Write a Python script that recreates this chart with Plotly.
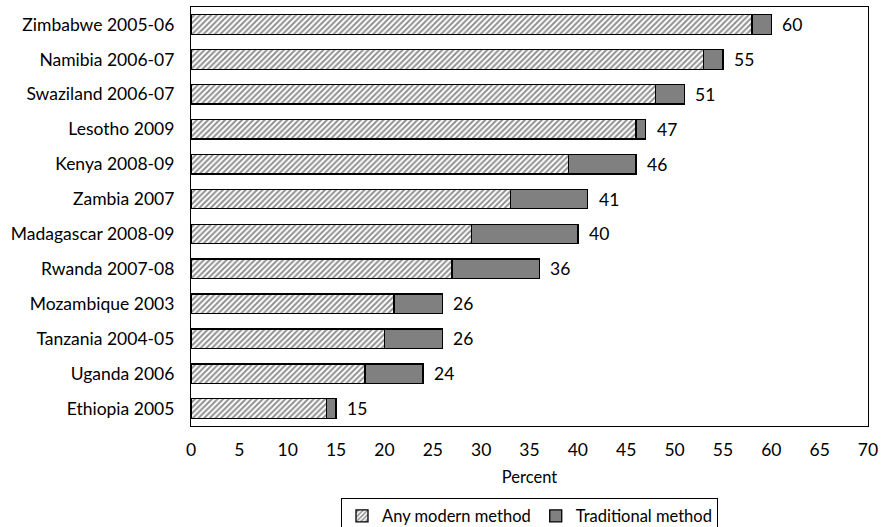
import plotly.graph_objects as go

countries = ["Zimbabwe 2005-06", "Namibia 2006-07", "Swaziland 2006-07", "Lesotho 2009",
             "Kenya 2008-09", "Zambia 2007", "Madagascar 2008-09", "Rwanda 2007-08",
             "Mozambique 2003", "Tanzania 2004-05", "Uganda 2006", "Ethiopia 2005"]
modern = [58, 53, 48, 46, 39, 33, 29, 27, 21, 20, 18, 14]
traditional = [2, 2, 3, 1, 7, 8, 11, 9, 5, 6, 6, 1]
totals = [60, 55, 51, 47, 46, 41, 40, 36, 26, 26, 24, 15]
xticks = list(range(0, 75, 5))

FONT = "Lato, 'Noto Sans', sans-serif"
FS = 17.5

fig = go.Figure()
fig.add_trace(go.Bar(
    y=countries, x=modern, orientation="h", name="Any modern method",
    marker=dict(color="white", line=dict(color="black", width=1.3),
                pattern=dict(shape="/", fgcolor="#222222", bgcolor="white", size=4, solidity=0.5)),
))
fig.add_trace(go.Bar(
    y=countries, x=traditional, orientation="h", name="Traditional method",
    marker=dict(color="#808080", line=dict(color="black", width=1.3)),
))
for c, t in zip(countries, totals):
    fig.add_annotation(x=t, y=c, text=str(t), showarrow=False, xanchor="left",
                       xshift=9, font=dict(size=FS, color="black", family=FONT))

fig.update_layout(
    width=881, height=527,
    barmode="stack", bargap=0.44,
    paper_bgcolor="white", plot_bgcolor="white",
    margin=dict(l=191, r=13, t=7, b=101, autoexpand=False),
    font=dict(family=FONT, size=FS, color="black"),
    legend=dict(orientation="h", x=0.5, xanchor="center", y=-0.171, yanchor="top",
                bordercolor="black", borderwidth=1, font=dict(size=16.5),
                itemwidth=30, tracegroupgap=0, traceorder="normal"),
    showlegend=True,
)
fig.update_xaxes(range=[0, 70], tickvals=xticks, showgrid=False, zeroline=False,
                 showline=True, linecolor="black", linewidth=1.3, mirror=True,
                 ticks="outside", ticklen=8, tickcolor="rgba(0,0,0,0)",
                 title=dict(text="Percent", standoff=12, font=dict(size=FS - 1)),
                 automargin=False, fixedrange=True)
fig.update_yaxes(categoryorder="array", categoryarray=countries[::-1], showgrid=False,
                 showline=True, linecolor="black", linewidth=1.3, mirror=True,
                 ticks="outside", ticklen=12, tickcolor="rgba(0,0,0,0)",
                 automargin=False, fixedrange=True)

fig.write_html("out.html", post_script="document.body.style.margin='0';",
               config={"displayModeBar": False})
